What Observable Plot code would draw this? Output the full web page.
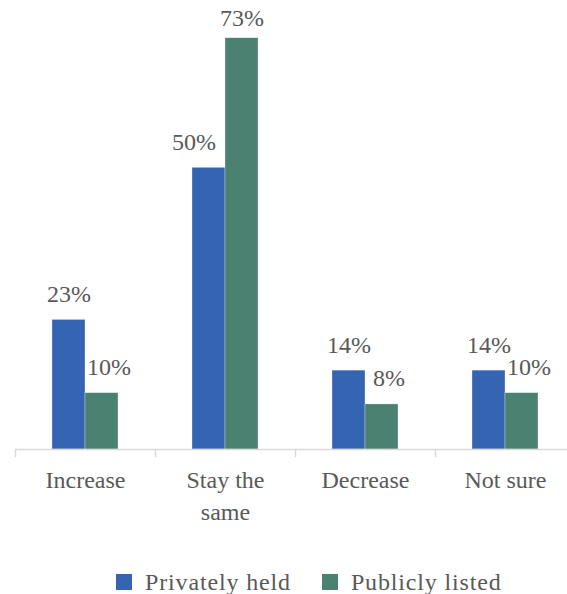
<!DOCTYPE html>
<html>
<head>
<meta charset="utf-8">
<script src="https://cdn.jsdelivr.net/npm/d3@7"></script>
<script src="https://cdn.jsdelivr.net/npm/@observablehq/plot@0.6"></script>
<style>
  html, body { margin: 0; padding: 0; background: #fff; width: 567px; height: 594px; overflow: hidden; }
  #chart svg { display: block; max-width: none !important; }
  .legend { display: flex; align-items: center; padding-left: 116px; margin-top: 20px; height: 24px; line-height: 24px;
            font-family: "Liberation Serif", "Times New Roman", Tinos, "DejaVu Serif", serif; font-size: 24px; color: #595959; letter-spacing: 0.85px; }
  .legend .sw { width: 16px; height: 16px; display: inline-block; margin-right: 13px; }
  .legend .item { display: flex; align-items: center; margin-right: 31px; }
</style>
</head>
<body>
<div id="chart"></div>
<script>
const categories = ["Increase", "Stay the same", "Decrease", "Not sure"];
const categoryLabels = ["Increase", "Stay the\nsame", "Decrease", "Not sure"];
const seriesNames = ["Privately held", "Publicly listed"];
const privatelyHeld = [23, 50, 14, 14];
const publiclyListed = [10, 73, 8, 10];
const seriesColors = ["#3564b3", "#4a8170"];

const rows = [];
categories.forEach((c, i) => {
  const vals = [privatelyHeld[i], publiclyListed[i]];
  seriesNames.forEach((s, j) => {
    const other = vals[1 - j];
    rows.push({category: c, series: s, value: vals[j],
      shorter: vals[j] < other, side: j});
  });
});
const maxValue = d3.max(rows, d => d.value);

const centered = rows.filter(d => !d.shorter && d.value < maxValue);
const topMost = rows.filter(d => d.value === maxValue);
const shortRight = rows.filter(d => d.shorter && d.side === 1);
const shortLeft = rows.filter(d => d.shorter && d.side === 0);

const FONT = '"Liberation Serif", "Times New Roman", Tinos, "DejaVu Serif", serif';
const labelOf = new Map(categories.map((c, i) => [c, categoryLabels[i]]));
const textOpts = {x: "series", y: "value", fx: "category", text: d => d.value + "%",
  lineAnchor: "bottom", dy: -18, fill: "#595959", fontSize: 24};

const chart = Plot.plot({
  width: 576,
  height: 550,
  marginLeft: 13,
  marginRight: 0,
  marginTop: 0,
  marginBottom: 101,
  style: {fontFamily: FONT, fontSize: "24px", color: "#595959", background: "#fff", overflow: "visible", maxWidth: "none"},
  fx: {domain: categories, padding: 0, label: null},
  x: {domain: seriesNames, paddingInner: 0, paddingOuter: 1.1, axis: null},
  y: {domain: [0, 79.7], axis: null},
  color: {domain: seriesNames, range: seriesColors},
  marks: [
    Plot.barY(rows, {x: "series", y: "value", fx: "category", fill: "series", stroke: "#ffffff", strokeWidth: 0.5, strokeOpacity: 0.6}),
    Plot.ruleY([0], {stroke: "#d9d9d9", strokeWidth: 1.5}),
    Plot.frame({anchor: "left", stroke: "#d9d9d9", strokeWidth: 1.5, insetTop: 449, insetBottom: -7}),
    Plot.text(centered, textOpts),
    Plot.text(topMost, {...textOpts, dy: -12}),
    Plot.text(shortRight, {...textOpts, dx: 7}),
    Plot.text(shortLeft, {...textOpts, dx: -15}),
    Plot.axisFx({anchor: "bottom", tickSize: 0, tickPadding: 16, fontSize: 24, lineHeight: 1.33,
      tickFormat: c => labelOf.get(c), label: null})
  ]
});
document.getElementById("chart").appendChild(chart);

const legend = document.createElement("div");
legend.className = "legend";
seriesNames.forEach((s, i) => {
  const item = document.createElement("span");
  item.className = "item";
  const sw = document.createElement("span");
  sw.className = "sw";
  sw.style.background = seriesColors[i];
  item.appendChild(sw);
  item.appendChild(document.createTextNode(s));
  legend.appendChild(item);
});
document.body.appendChild(legend);
</script>
</body>
</html>
